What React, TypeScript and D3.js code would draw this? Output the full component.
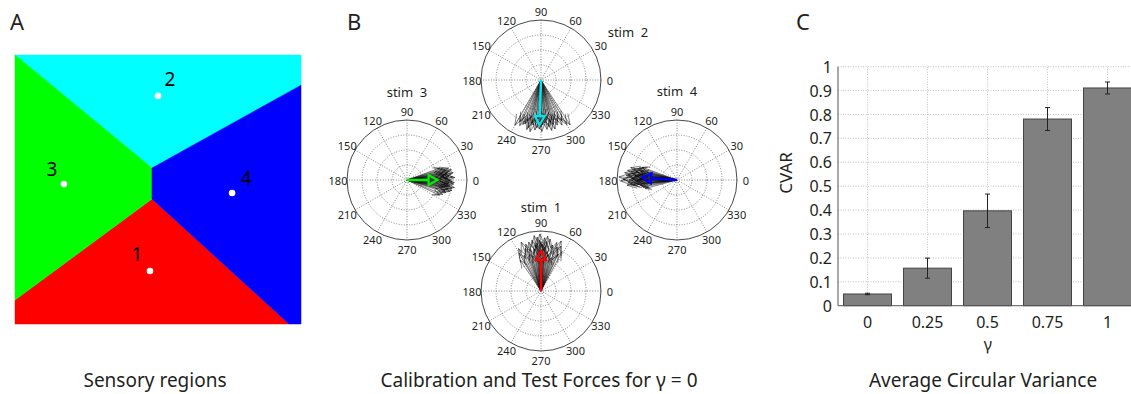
import React, { useEffect, useRef } from 'react';
import * as d3 from 'd3';

const FONT = '"Noto Sans", "Open Sans", sans-serif';
const TEXT = '#231f20';

// ---- panel A: sensory regions (unit square coords, y down)
const regionLabels = ['1', '2', '3', '4'];
const regionColors = ['#ff0000', '#00ffff', '#00ff00', '#0000ff'];
const regionPolys = [
  [[0, 0.911], [0.479, 0.535], [0.958, 1], [0, 1]],
  [[0, 0], [1, 0], [1, 0.112], [0.479, 0.42]],
  [[0, 0], [0.479, 0.42], [0.479, 0.535], [0, 0.911]],
  [[1, 0.112], [1, 1], [0.958, 1], [0.479, 0.535], [0.479, 0.42]],
];
const regionCenters = [[0.472, 0.803], [0.5, 0.152], [0.171, 0.48], [0.759, 0.513]];

// ---- panel B: force vectors [angle deg, magnitude]
const stim1Forces = [
  [90, 0.82], [88, 0.78], [92, 0.85], [85, 0.74], [95, 0.8], [80, 0.88], [100, 0.86], [75, 0.7],
  [105, 0.72], [70, 0.78], [110, 0.75], [65, 0.68], [115, 0.66], [83, 0.92], [97, 0.93], [78, 0.62],
  [102, 0.6], [87, 0.7], [93, 0.68], [72, 0.85], [108, 0.82], [68, 0.9], [112, 0.88], [120, 0.73],
  [62, 0.74], [124, 0.62], [89, 0.55], [91, 0.95], [84, 0.83], [96, 0.77], [76, 0.79], [104, 0.84],
  [81, 0.66], [99, 0.71], [73, 0.58], [107, 0.64], [86, 0.89], [94, 0.9], [118, 0.8], [66, 0.82],
];
const stim2Forces = [
  [270, 0.78], [268, 0.82], [272, 0.75], [265, 0.8], [275, 0.72], [260, 0.76], [280, 0.79], [255, 0.82],
  [285, 0.77], [250, 0.78], [290, 0.8], [245, 0.84], [295, 0.83], [240, 0.87], [300, 0.86], [303, 0.89],
  [262, 0.7], [278, 0.68], [258, 0.88], [282, 0.86], [266, 0.65], [274, 0.62], [252, 0.72], [288, 0.7],
  [248, 0.8], [292, 0.74], [263, 0.84], [277, 0.83], [257, 0.74], [283, 0.73], [269, 0.72], [271, 0.86],
  [243, 0.78], [297, 0.76], [254, 0.86], [286, 0.85],
];
const stim3Forces = [
  [0, 0.72], [2, 0.68], [-2, 0.75], [5, 0.7], [-5, 0.78], [8, 0.74], [-8, 0.72], [10, 0.68],
  [-10, 0.76], [12, 0.72], [-12, 0.7], [15, 0.66], [-15, 0.74], [18, 0.62], [-18, 0.68], [20, 0.58],
  [-22, 0.64], [-25, 0.6], [3, 0.8], [-3, 0.79], [6, 0.62], [-6, 0.64], [1, 0.58], [-1, 0.55],
  [9, 0.78], [-9, 0.8], [13, 0.76], [-13, 0.77], [4, 0.76], [-4, 0.7], [11, 0.6], [-11, 0.62],
  [16, 0.72], [-16, 0.66], [7, 0.66], [-7, 0.69],
];
const stim4Forces = [
  [176, 0.72], [178, 0.76], [174, 0.7], [180, 0.8], [172, 0.74], [182, 0.68], [170, 0.78], [184, 0.72],
  [168, 0.7], [186, 0.66], [166, 0.74], [188, 0.62], [164, 0.68], [190, 0.6], [162, 0.66], [192, 0.58],
  [175, 0.85], [179, 0.9], [177, 0.97], [181, 0.94], [173, 0.64], [171, 0.6], [183, 0.82], [169, 0.84],
  [185, 0.78], [167, 0.62], [187, 0.74], [165, 0.8], [160, 0.62], [195, 0.55], [176, 0.58], [178, 0.62],
  [174, 0.82], [180, 0.66], [186, 0.84], [172, 0.88],
];
const stimNames = ['stim  1', 'stim  2', 'stim  3', 'stim  4'];
const stimColors = ['#ff0000', '#00e5ee', '#00ee00', '#0000ff'];
const stimMeans = [[90, 0.67], [268, 0.75], [0, 0.51], [176, 0.58]];
const angleTicks = [0, 30, 60, 90, 120, 150, 180, 210, 240, 270, 300, 330];
const ringTicks = [0.25, 0.5, 0.75];

// ---- panel C: circular variance
const gammaLabels = ['0', '0.25', '0.5', '0.75', '1'];
const cvarMeans = [0.049, 0.157, 0.397, 0.781, 0.911];
const cvarErrs = [0.003, 0.042, 0.07, 0.048, 0.025];
const cvarTicks = [0, 0.1, 0.2, 0.3, 0.4, 0.5, 0.6, 0.7, 0.8, 0.9, 1];

// layout
const polarLayout = [
  { cx: 541, cy: 291, tx: 541, ty: 212 },
  { cx: 541, cy: 80, tx: 628, ty: 37 },
  { cx: 407, cy: 180, tx: 407, ty: 97 },
  { cx: 677, cy: 180, tx: 677, ty: 96 },
];
const labelOffsets = [[-13, -10], [12, -10], [-12, -8], [14, -8]];

export default function App() {
  const ref = useRef(null);

  useEffect(() => {
    const svg = d3.select(ref.current);
    svg.selectAll('*').remove();
    svg.attr('width', 1131).attr('height', 394).style('font-family', FONT);

    svg.append('rect').attr('width', 1131).attr('height', 394).attr('fill', '#fff');

    // panel letters + captions
    [['A', 10], ['B', 347], ['C', 796]].forEach(([t, x]) => {
      svg.append('text').attr('x', x).attr('y', 30).attr('font-size', 22).attr('fill', TEXT).text(t);
    });
    [['Sensory regions', 155], ['Calibration and Test Forces for \u03b3 = 0', 539], ['Average Circular Variance', 983]].forEach(([t, x]) => {
      svg.append('text').attr('x', x).attr('y', 387).attr('text-anchor', 'middle')
        .attr('font-size', 19).attr('fill', TEXT).text(t);
    });

    // ---------- A
    const ax = d3.scaleLinear().domain([0, 1]).range([15, 301]);
    const ay = d3.scaleLinear().domain([0, 1]).range([55, 324]);
    const gA = svg.append('g');
    regionPolys.forEach((poly, i) => {
      gA.append('polygon')
        .attr('points', poly.map((p) => `${ax(p[0])},${ay(p[1])}`).join(' '))
        .attr('fill', regionColors[i])
        .attr('stroke', regionColors[i])
        .attr('stroke-width', 0.5);
    });
    regionCenters.forEach((c, i) => {
      gA.append('circle').attr('cx', ax(c[0])).attr('cy', ay(c[1])).attr('r', 3.3).attr('fill', '#fff');
      gA.append('text')
        .attr('x', ax(c[0]) + labelOffsets[i][0])
        .attr('y', ay(c[1]) + labelOffsets[i][1])
        .attr('text-anchor', 'middle')
        .attr('font-size', 19)
        .attr('fill', '#000')
        .text(regionLabels[i]);
    });

    // ---------- B
    const R = 60;
    const rs = d3.scaleLinear().domain([0, 1]).range([0, R]);
    const pt = (deg, r) => [r * Math.cos((deg * Math.PI) / 180), -r * Math.sin((deg * Math.PI) / 180)];
    const compass = (deg, mag) => {
      const L = rs(mag);
      const a = (deg * Math.PI) / 180;
      const dx = Math.cos(a), dy = -Math.sin(a);
      const px = -dy, py = dx;
      const tip = [L * dx, L * dy];
      const h1 = [0.8 * L * dx + 0.08 * L * px, 0.8 * L * dy + 0.08 * L * py];
      const h2 = [0.8 * L * dx - 0.08 * L * px, 0.8 * L * dy - 0.08 * L * py];
      return `M0,0L${tip}L${h1}M${tip}L${h2}`;
    };
    const forces = [stim1Forces, stim2Forces, stim3Forces, stim4Forces];

    polarLayout.forEach((lay, i) => {
      const g = svg.append('g').attr('transform', `translate(${lay.cx},${lay.cy})`);
      ringTicks.forEach((r) => {
        g.append('circle').attr('r', rs(r)).attr('fill', 'none')
          .attr('stroke', '#555').attr('stroke-width', 0.7).attr('stroke-dasharray', '1,1.6');
      });
      angleTicks.filter((a) => a < 180).forEach((a) => {
        const p1 = pt(a, R), p2 = pt(a + 180, R);
        g.append('line').attr('x1', p1[0]).attr('y1', p1[1]).attr('x2', p2[0]).attr('y2', p2[1])
          .attr('stroke', '#555').attr('stroke-width', 0.7).attr('stroke-dasharray', '1,1.6');
      });
      g.append('circle').attr('r', R).attr('fill', 'none').attr('stroke', '#333').attr('stroke-width', 0.9);
      angleTicks.forEach((a) => {
        const p = pt(a, R + 9);
        g.append('text').attr('x', p[0]).attr('y', p[1]).attr('text-anchor', 'middle')
          .attr('dominant-baseline', 'central').attr('font-size', 11).attr('fill', TEXT).text(a);
      });
      g.append('g').selectAll('path').data(forces[i]).enter().append('path')
        .attr('d', (d) => compass(d[0], d[1]))
        .attr('fill', 'none').attr('stroke', '#000').attr('stroke-width', 0.6).attr('stroke-opacity', 0.8);

      // mean arrow
      const [md, mm] = stimMeans[i];
      const L = rs(mm);
      const a = (md * Math.PI) / 180;
      const dx = Math.cos(a), dy = -Math.sin(a);
      const px = -dy, py = dx;
      const hl = 9, hw = 5;
      const tip = [L * dx, L * dy];
      const base = [(L - hl) * dx, (L - hl) * dy];
      g.append('line').attr('x1', 0).attr('y1', 0).attr('x2', base[0]).attr('y2', base[1])
        .attr('stroke', stimColors[i]).attr('stroke-width', 2.6);
      g.append('polygon')
        .attr('points', [tip, [base[0] + hw * px, base[1] + hw * py], [base[0] - hw * px, base[1] - hw * py]]
          .map((p) => p.join(',')).join(' '))
        .attr('fill', 'none').attr('stroke', stimColors[i]).attr('stroke-width', 2.2)
        .attr('stroke-linejoin', 'miter');

      svg.append('text').attr('x', lay.tx).attr('y', lay.ty).attr('text-anchor', 'middle')
        .attr('font-size', 13).attr('fill', TEXT).style('white-space', 'pre').text(stimNames[i]);
    });

    // ---------- C
    const x = d3.scaleBand().domain(gammaLabels).range([837.5, 1137.5]).paddingInner(0.2).paddingOuter(0.1);
    const y = d3.scaleLinear().domain([0, 1]).range([305.7, 66.7]);
    const gC = svg.append('g');
    cvarTicks.filter((t) => t > 0).forEach((t) => {
      gC.append('line').attr('x1', 838).attr('x2', 1131).attr('y1', y(t)).attr('y2', y(t))
        .attr('stroke', '#b5b5b5').attr('stroke-width', 0.8).attr('stroke-dasharray', '1,1.5');
    });
    gammaLabels.forEach((g) => {
      const cx = x(g) + x.bandwidth() / 2;
      gC.append('line').attr('x1', cx).attr('x2', cx).attr('y1', y(1)).attr('y2', y(0))
        .attr('stroke', '#b5b5b5').attr('stroke-width', 0.8).attr('stroke-dasharray', '1,1.5');
    });
    gC.selectAll('rect.bar').data(cvarMeans).enter().append('rect')
      .attr('class', 'bar')
      .attr('x', (d, i) => x(gammaLabels[i]))
      .attr('y', (d) => y(d))
      .attr('width', x.bandwidth())
      .attr('height', (d) => y(0) - y(d))
      .attr('fill', '#808080')
      .attr('stroke', '#444')
      .attr('stroke-width', 1);
    cvarMeans.forEach((m, i) => {
      const cx = x(gammaLabels[i]) + x.bandwidth() / 2;
      const e = cvarErrs[i];
      const eg = gC.append('g').attr('stroke', '#222').attr('stroke-width', 1);
      eg.append('line').attr('x1', cx).attr('x2', cx).attr('y1', y(m + e)).attr('y2', y(m - e));
      eg.append('line').attr('x1', cx - 2.5).attr('x2', cx + 2.5).attr('y1', y(m + e)).attr('y2', y(m + e));
      eg.append('line').attr('x1', cx - 2.5).attr('x2', cx + 2.5).attr('y1', y(m - e)).attr('y2', y(m - e));
    });
    gC.append('line').attr('x1', 838).attr('x2', 838).attr('y1', y(1)).attr('y2', y(0))
      .attr('stroke', '#555').attr('stroke-width', 1);
    gC.append('line').attr('x1', 838).attr('x2', 1131).attr('y1', y(0)).attr('y2', y(0))
      .attr('stroke', '#555').attr('stroke-width', 1);
    cvarTicks.forEach((t) => {
      gC.append('text').attr('x', 832).attr('y', y(t)).attr('text-anchor', 'end')
        .attr('dominant-baseline', 'central').attr('font-size', 16).attr('fill', TEXT)
        .text(d3.format('~g')(t));
    });
    gammaLabels.forEach((g) => {
      gC.append('text').attr('x', x(g) + x.bandwidth() / 2).attr('y', 328).attr('text-anchor', 'middle')
        .attr('font-size', 16).attr('fill', TEXT).text(g);
    });
    gC.append('text').attr('x', 988).attr('y', 350).attr('text-anchor', 'middle')
      .attr('font-size', 16).attr('fill', TEXT).text('\u03b3');
    gC.append('text').attr('transform', 'translate(792,173) rotate(-90)').attr('text-anchor', 'middle')
      .attr('font-size', 17).attr('fill', TEXT).text('CVAR');
  });

  return (
    <div style={{ position: 'absolute', left: 0, top: 0 }}>
      <svg ref={ref}></svg>
    </div>
  );
}
